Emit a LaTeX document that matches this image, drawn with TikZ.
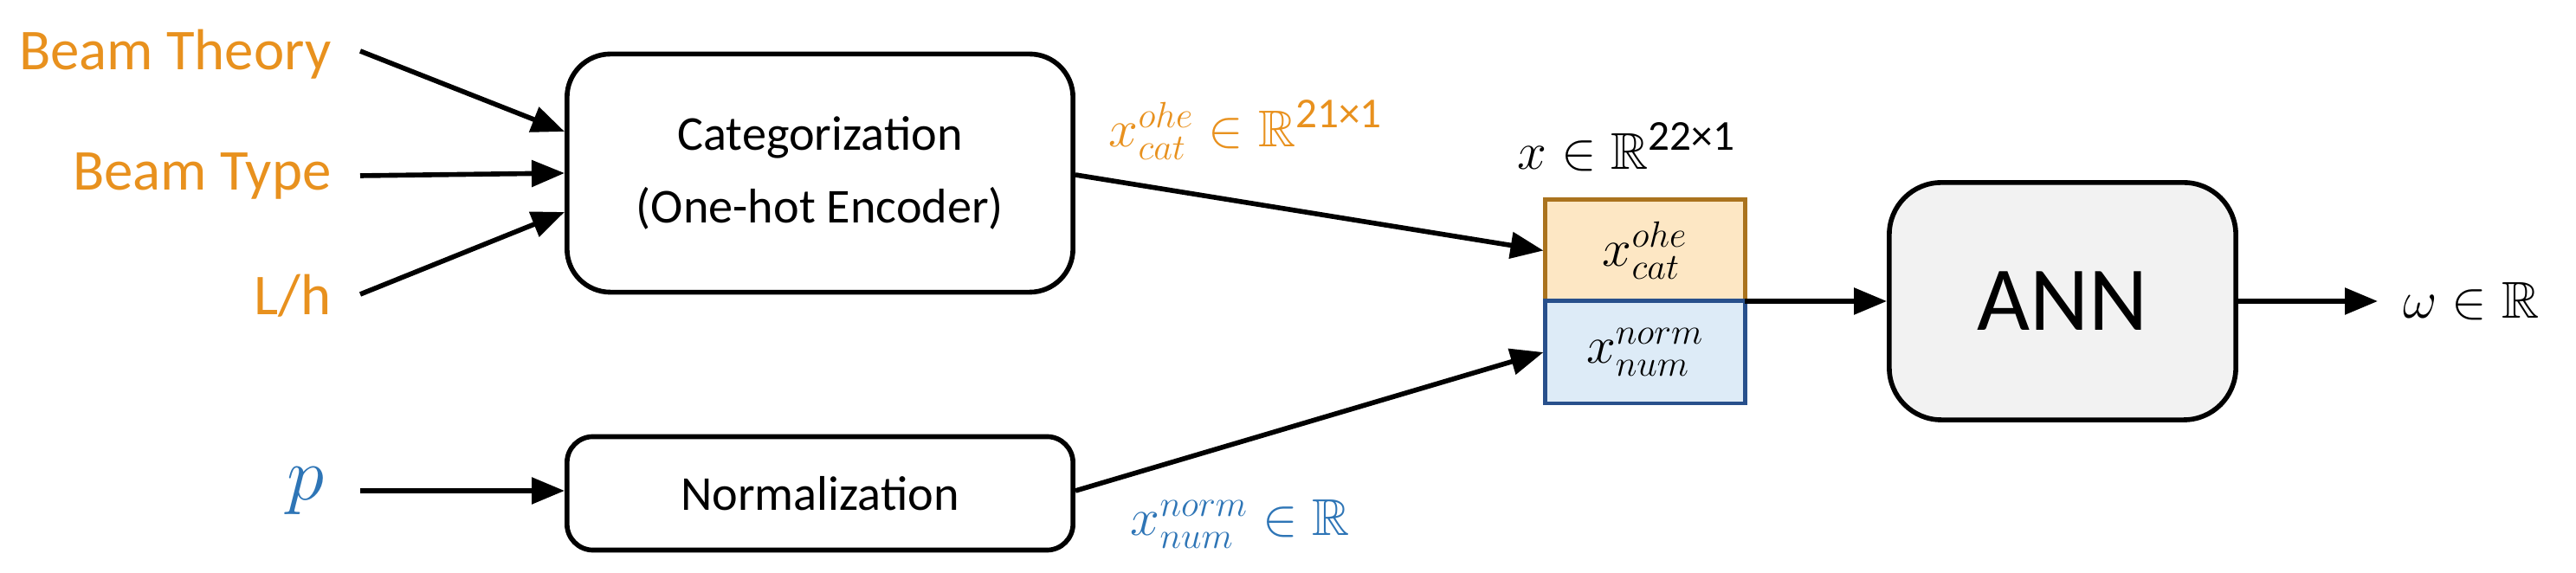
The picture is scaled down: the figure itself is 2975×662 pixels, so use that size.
\documentclass[tikz,border=0pt]{standalone}
\usepackage{fontspec}
\setmainfont{Carlito}
\usepackage{amsmath,amssymb}
\usetikzlibrary{arrows.meta}
\definecolor{orng}{RGB}{232,145,30}
\definecolor{blu}{RGB}{46,117,182}
\definecolor{catfill}{RGB}{253,231,196}
\definecolor{catline}{RGB}{170,115,30}
\definecolor{numfill}{RGB}{221,235,247}
\definecolor{numline}{RGB}{40,80,140}
\tikzset{
 box/.style={draw,line width=1.6pt,rounded corners=0.5cm,inner sep=0},
 arr/.style={-{Triangle[length=0.38cm,width=0.3cm]},line width=1.6pt},
 lab/.style={font=\fontsize{19}{22}\selectfont,anchor=east,inner sep=0}
}
\begin{document}
\begin{tikzpicture}[x=0.01cm,y=-0.01cm]
\useasboundingbox (0,0) rectangle (2975,662);
% inputs
\node[lab,text=orng] (bt) at (383,63) {Beam Theory};
\node[lab,text=orng] (bty) at (383,203) {Beam Type};
\node[lab,text=orng] (lh) at (383,342) {L/h};
\node[lab,text=blu,font=\fontsize{24}{26}\selectfont] (p) at (375,567) {$p$};
% boxes
\node[box,minimum width=5.84cm,minimum height=2.75cm,align=center,font=\fontsize{16}{24}\selectfont] (cat) at (947,200) {Categorization\\(One-hot Encoder)};
\node[box,minimum width=5.84cm,minimum height=1.31cm,rounded corners=0.3cm,font=\fontsize{16}{20}\selectfont] (norm) at (947,570) {Normalization};
\node[draw=catline,fill=catfill,line width=1.4pt,minimum width=2.3cm,minimum height=1.17cm,inner sep=0,font=\fontsize{17}{20}\selectfont] (xc) at (1900,289.5) {$x_{cat}^{ohe}$};
\node[draw=numline,fill=numfill,line width=1.4pt,minimum width=2.3cm,minimum height=1.18cm,inner sep=0,font=\fontsize{17}{20}\selectfont] (xn) at (1900,407) {$x_{num}^{norm}$};
\node[box,fill=black!5,minimum width=4.0cm,minimum height=2.74cm,rounded corners=0.6cm,font=\fontsize{30}{34}\selectfont] (ann) at (2382,348) {ANN};
\coordinate (xm) at (2015,348);
\coordinate (oe) at (2746,348);
\node[anchor=west,inner sep=0,font=\fontsize{17}{20}\selectfont] (om) at (2775,348) {$\omega\in\mathbb{R}$};
% labels
\node[anchor=west,inner sep=0,text=orng,font=\fontsize{17}{20}\selectfont] (lc) at (1280,150) {$x_{cat}^{ohe}\in\mathbb{R}^{\mbox{\fontsize{14}{16}\selectfont 21×1}}$};
\node[anchor=west,inner sep=0,text=blu,font=\fontsize{17}{20}\selectfont] (ln) at (1305,605) {$x_{num}^{norm}\in\mathbb{R}$};
\node[anchor=west,inner sep=0,font=\fontsize{17}{20}\selectfont] (lx) at (1752,170) {$x\in\mathbb{R}^{\mbox{\fontsize{14}{16}\selectfont 22×1}}$};
% connectors
\coordinate (s1) at (416,59);
\coordinate (s2) at (416,203);
\coordinate (s3) at (416,340);
\coordinate (s4) at (416,567);
\draw[arr] (s1) -- (cat.west |- 0,152);
\draw[arr] (s2) -- (cat.west |- 0,200);
\draw[arr] (s3) -- (cat.west |- 0,245);
\draw[arr] (s4) -- (norm.west |- 0,567);
\draw[arr] (cat.east |- 0,202) -- (xc.west);
\draw[arr] (norm.east |- 0,567) -- (xn.west);
\draw[arr] (xm) -- (ann.west);
\draw[arr] (ann.east) -- (oe);
\end{tikzpicture}
\end{document}
